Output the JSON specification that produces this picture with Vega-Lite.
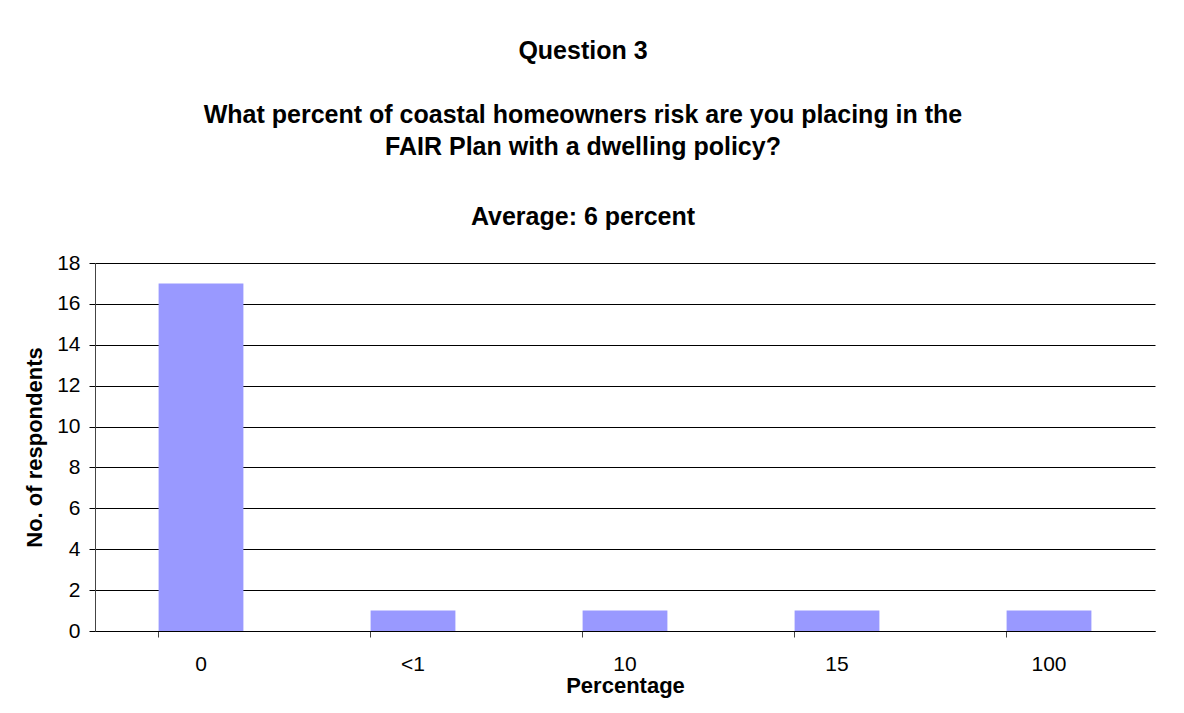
{
  "$schema": "https://vega.github.io/schema/vega-lite/v6.json",
  "autosize": "none",
  "width": 1060,
  "height": 368,
  "padding": {"left": 95, "top": 263, "right": 29, "bottom": 82},
  "background": "white",
  "config": {
    "font": "Liberation Sans",
    "view": {"stroke": null}
  },
  "title": {
    "text": ["Question 3", "\u200b", "What percent of coastal homeowners risk are you placing in the", "FAIR Plan with a dwelling policy?"],
    "subtitle": "Average: 6 percent",
    "font": "Liberation Sans",
    "fontSize": 25,
    "fontWeight": "bold",
    "color": "black",
    "lineHeight": 32,
    "subtitleFont": "Liberation Sans",
    "subtitleFontSize": 25,
    "subtitleFontWeight": "bold",
    "subtitleColor": "black",
    "subtitlePadding": 45,
    "anchor": "middle",
    "frame": "group",
    "dx": -42,
    "offset": 22
  },
  "data": {
    "values": [
      {"pct": "0", "n": 17},
      {"pct": "<1", "n": 1},
      {"pct": "10", "n": 1},
      {"pct": "15", "n": 1},
      {"pct": "100", "n": 1}
    ]
  },
  "mark": {"type": "bar", "color": "#9999FF"},
  "encoding": {
    "x": {
      "field": "pct",
      "type": "nominal",
      "sort": null,
      "scale": {"paddingInner": 0.6, "paddingOuter": 0.3},
      "axis": {
        "title": "Percentage",
        "titleFont": "Liberation Sans",
        "titleFontSize": 22,
        "titleFontWeight": "bold",
        "titleColor": "black",
        "titlePadding": 1,
        "labelAngle": 0,
        "labelFontSize": 21,
        "labelColor": "black",
        "labelPadding": 16,
        "bandPosition": 0,
        "tickSize": 6,
        "tickColor": "#444444",
        "domainColor": "black",
        "grid": false
      }
    },
    "y": {
      "field": "n",
      "type": "quantitative",
      "scale": {"domain": [0, 18]},
      "axis": {
        "title": "No. of respondents",
        "titleFont": "Liberation Sans",
        "titleFontSize": 22,
        "titleFontWeight": "bold",
        "titleColor": "black",
        "titlePadding": 10,
        "values": [0, 2, 4, 6, 8, 10, 12, 14, 16, 18],
        "labelFontSize": 21,
        "labelColor": "black",
        "labelPadding": 9,
        "tickSize": 6,
        "tickColor": "black",
        "domainColor": "#444444",
        "grid": true,
        "gridColor": "black",
        "gridOpacity": 1,
        "gridWidth": 1
      }
    }
  }
}
